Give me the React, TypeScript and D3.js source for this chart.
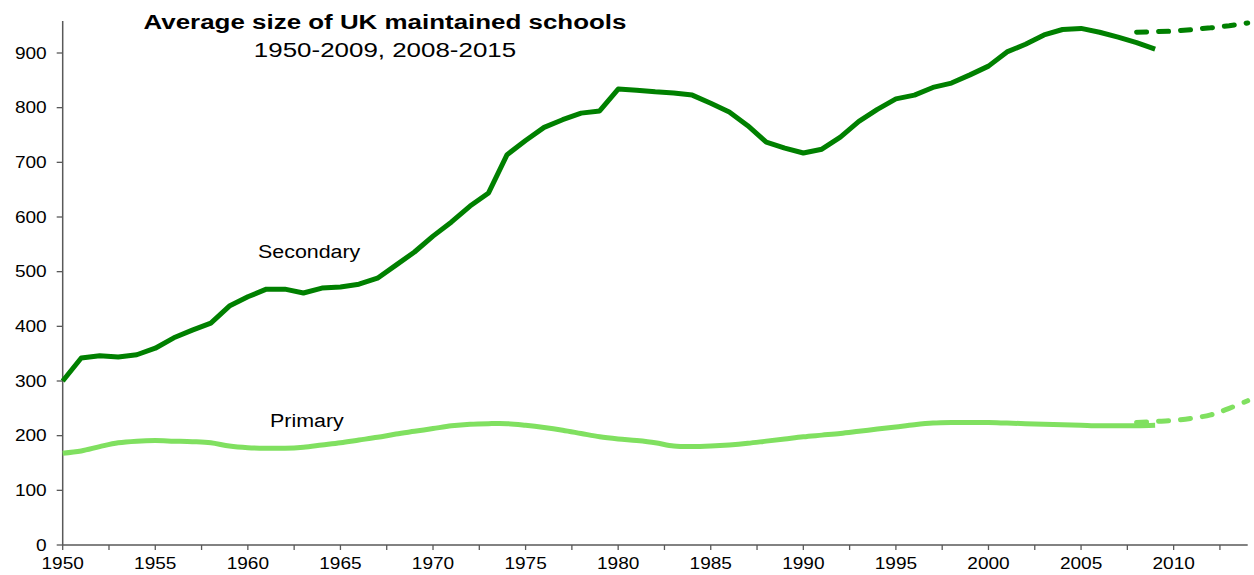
import React from "react";
import * as d3 from "d3";

const years: number[] = d3.range(1950, 2010);
const secondary: number[] = [
  300, 342, 346, 344, 348, 360, 379, 393, 406, 437,
  454, 468, 468, 461, 470, 472, 477, 488, 512, 536,
  565, 591, 620, 644, 714, 740, 764, 778, 790, 794,
  834, 832, 829, 827, 823, 808, 792, 767, 737, 726,
  717, 724, 746, 775, 797, 816, 823, 837, 845, 860,
  876, 902, 916, 933, 943, 945, 938, 929, 919, 907,
];
const primary: number[] = [
  168, 172, 180, 187, 190, 191, 190, 189, 187, 181,
  178, 177, 177, 179, 183, 187, 192, 197, 203, 208,
  213, 218, 221, 222, 222, 219, 215, 210, 204, 198,
  194, 191, 187, 181, 180, 181, 183, 186, 190, 194,
  198, 201, 204, 208, 212, 216, 220, 223, 224, 224,
  224, 223, 222, 221, 220, 219, 218, 218, 218, 219,
];
const projYears: number[] = [2008, 2009, 2010, 2011, 2012, 2013, 2014];
const secondaryProj: number[] = [938, 939, 940, 943, 946, 950, 955];
const primaryProj: number[] = [224, 226, 228, 232, 238, 250, 264];
const yTicks: number[] = [0, 100, 200, 300, 400, 500, 600, 700, 800, 900];
const xLabelYears: number[] = d3.range(1950, 2011, 5);
const xTickYears: number[] = d3.range(1950, 2014, 2.5);

const W = 1254;
const H = 575;
const left = 62.7;
const right = 1247.7;
const top = 21;
const bottom = 545;

const DARK = "#008000";
const LIGHT = "#80E060";
const AXIS = "#595959";
const FONT = "'Liberation Sans', Arial, sans-serif";
const SX = 1.19;
const TSX = 1.235;

function T(props: {
  x: number;
  y: number;
  sx: number;
  size: number;
  anchor?: string;
  bold?: boolean;
  children: React.ReactNode;
}) {
  return (
    <text
      transform={`translate(${props.x},${props.y}) scale(${props.sx},1)`}
      textAnchor={props.anchor || "start"}
      fontSize={props.size}
      fontWeight={props.bold ? "bold" : "normal"}
      fill="#000"
    >
      {props.children}
    </text>
  );
}

export default function App() {
  const x = d3.scaleLinear().domain([1950, 2014]).range([left, right]);
  const y = d3.scaleLinear().domain([0, 900]).range([bottom, 53]);

  type P = [number, number];
  const line = d3
    .line<P>()
    .x((d) => x(d[0]))
    .y((d) => y(d[1]));
  const smooth = d3
    .line<P>()
    .x((d) => x(d[0]))
    .y((d) => y(d[1]))
    .curve(d3.curveCatmullRom.alpha(0.5));

  const secData: P[] = years.map((yr, i) => [yr, secondary[i]]);
  const priData: P[] = years.map((yr, i) => [yr, primary[i]]);
  const secProj: P[] = projYears.map((yr, i) => [yr, secondaryProj[i]]);
  const priProj: P[] = projYears.map((yr, i) => [yr, primaryProj[i]]);

  return (
    <svg
      width={W}
      height={H}
      style={{ position: "absolute", left: 0, top: 0, background: "#fff" }}
      fontFamily={FONT}
    >
      {/* axes */}
      <line x1={left} x2={left} y1={top} y2={bottom} stroke={AXIS} strokeWidth={1.5} />
      <line x1={left} x2={right} y1={bottom} y2={bottom} stroke={AXIS} strokeWidth={1.5} />
      {yTicks.map((t) => (
        <g key={"yt" + t}>
          <line x1={left - 6} x2={left} y1={y(t)} y2={y(t)} stroke={AXIS} strokeWidth={1.3} />
          <T x={left - 16} y={y(t) + 5.5} sx={SX} size={16} anchor="end">
            {t}
          </T>
        </g>
      ))}
      {xTickYears.map((t) => (
        <line
          key={"xt" + t}
          x1={x(t)}
          x2={x(t)}
          y1={bottom}
          y2={bottom + 5}
          stroke={AXIS}
          strokeWidth={1.3}
        />
      ))}
      {xLabelYears.map((t) => (
        <T key={"xl" + t} x={x(t)} y={569} sx={SX} size={16} anchor="middle">
          {t}
        </T>
      ))}

      {/* lines */}
      <path d={smooth(priData) || ""} fill="none" stroke={LIGHT} strokeWidth={5} strokeLinejoin="round" />
      <path
        d={smooth(priProj) || ""}
        fill="none"
        stroke={LIGHT}
        strokeWidth={5}
        strokeDasharray="10 12"
        strokeLinecap="round"
      />
      <path d={line(secData) || ""} fill="none" stroke={DARK} strokeWidth={5} strokeLinejoin="round" />
      <path
        d={line(secProj) || ""}
        fill="none"
        stroke={DARK}
        strokeWidth={5}
        strokeDasharray="10 12"
        strokeLinecap="round"
      />

      {/* labels */}
      <T x={385} y={29} sx={TSX} size={21} anchor="middle" bold>
        Average size of UK maintained schools
      </T>
      <T x={385} y={57} sx={TSX} size={21} anchor="middle">
        1950-2009, 2008-2015
      </T>
      <T x={258} y={258} sx={SX} size={18}>
        Secondary
      </T>
      <T x={270} y={427} sx={SX} size={18}>
        Primary
      </T>
    </svg>
  );
}
